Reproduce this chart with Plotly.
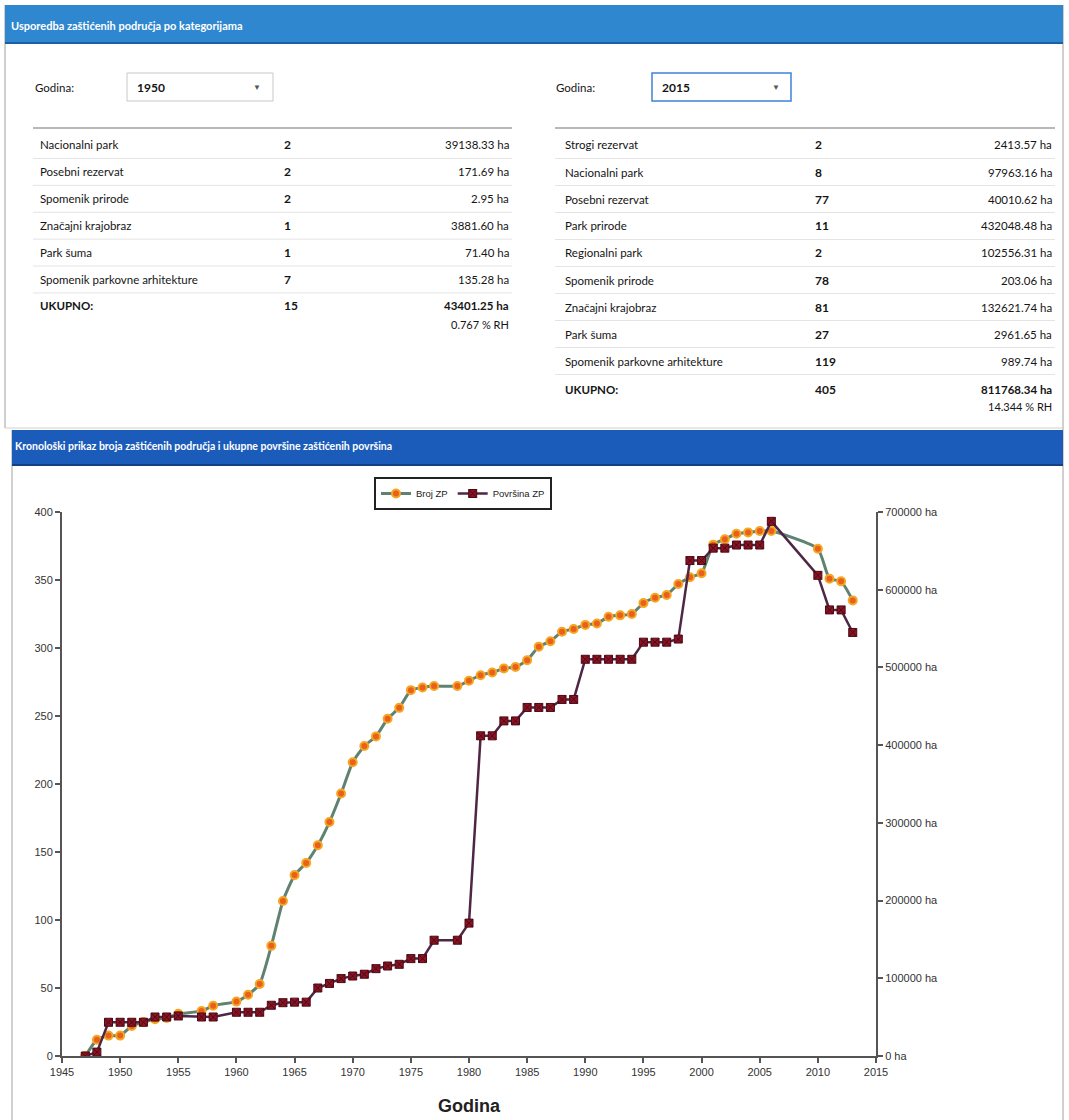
import plotly.graph_objects as go

W, H = 1069, 1120

# ---------------- data ----------------
years = [1947, 1948, 1949, 1950, 1951, 1952, 1953, 1954, 1955, 1957, 1958,
         1960, 1961, 1962, 1963, 1964, 1965, 1966, 1967, 1968, 1969, 1970,
         1971, 1972, 1973, 1974, 1975, 1976, 1977, 1979, 1980, 1981, 1982,
         1983, 1984, 1985, 1986, 1987, 1988, 1989, 1990, 1991, 1992, 1993,
         1994, 1995, 1996, 1997, 1998, 1999, 2000, 2001, 2002, 2003, 2004,
         2005, 2006, 2010, 2011, 2012, 2013]
broj_zp = [0, 12, 15, 15, 22, 25, 27, 28, 31, 33, 37,
           40, 45, 53, 81, 114, 133, 142, 155, 172, 193, 216,
           228, 235, 248, 256, 269, 271, 272, 272, 276, 280, 282,
           285, 286, 291, 301, 305, 312, 314, 317, 318, 323, 324,
           325, 333, 337, 339, 347, 352, 355, 376, 380, 384, 385,
           386, 386, 373, 351, 349, 335]
povrsina_zp = [0, 5000, 43400, 43400, 43400, 43400, 50200, 50200, 51500, 50200, 50200,
               56300, 56300, 56300, 65300, 68600, 69300, 69300, 87500, 93400, 99600, 102900,
               105200, 112400, 115800, 118000, 125300, 125300, 149000, 149000, 171000, 412000, 412000,
               431200, 431200, 448500, 448500, 448500, 458800, 458800, 510500, 510500, 510500, 510500,
               510500, 532500, 532500, 532500, 536500, 637500, 637500, 653500, 653500, 657500, 657500,
               657500, 688000, 618500, 574000, 574000, 545000]

t1950_names = ["Nacionalni park", "Posebni rezervat", "Spomenik prirode", "Značajni krajobraz",
               "Park šuma", "Spomenik parkovne arhitekture"]
t1950_counts = ["2", "2", "2", "1", "1", "7"]
t1950_areas = ["39138.33 ha", "171.69 ha", "2.95 ha", "3881.60 ha", "71.40 ha", "135.28 ha"]
t1950_total = ["UKUPNO:", "15", "43401.25 ha", "0.767 % RH"]

t2015_names = ["Strogi rezervat", "Nacionalni park", "Posebni rezervat", "Park prirode",
               "Regionalni park", "Spomenik prirode", "Značajni krajobraz", "Park šuma",
               "Spomenik parkovne arhitekture"]
t2015_counts = ["2", "8", "77", "11", "2", "78", "81", "27", "119"]
t2015_areas = ["2413.57 ha", "97963.16 ha", "40010.62 ha", "432048.48 ha", "102556.31 ha",
               "203.06 ha", "132621.74 ha", "2961.65 ha", "989.74 ha"]
t2015_total = ["UKUPNO:", "405", "811768.34 ha", "14.344 % RH"]

title_top = "Usporedba zaštićenih područja po kategorijama"
title_chart = "Kronološki prikaz broja zaštićenih područja i ukupne površine zaštićenih površina"

# ---------------- helpers ----------------
def px(x):
    return x / W

def py(y):
    return 1 - y / H

TXT = "Lato, 'Noto Sans', sans-serif"
AX = "'Liberation Sans', Arial, sans-serif"

shapes = []
annotations = []

def rect(x0, y0, x1, y1, fill, line=None, lw=0):
    shapes.append(dict(type="rect", xref="paper", yref="paper",
                       x0=px(x0), x1=px(x1), y0=py(y1), y1=py(y0),
                       fillcolor=fill, line=dict(color=line or fill, width=lw), layer="below"))

def hline(x0, x1, y, color, width=1):
    shapes.append(dict(type="line", xref="paper", yref="paper",
                       x0=px(x0), x1=px(x1), y0=py(y), y1=py(y),
                       line=dict(color=color, width=width), layer="below"))

def vline(x, y0, y1, color, width=1):
    shapes.append(dict(type="line", xref="paper", yref="paper",
                       x0=px(x), x1=px(x), y0=py(y0), y1=py(y1),
                       line=dict(color=color, width=width), layer="below"))

def text(x, y, s, size=12, color="#151515", align="left", bold=False, family=TXT):
    if bold:
        s = "<b>" + s + "</b>"
    annotations.append(dict(xref="paper", yref="paper", x=px(x), y=py(y), text=s,
                            showarrow=False, xanchor=align, yanchor="middle",
                            borderpad=0, font=dict(family=family, size=size, color=color)))

# ---------------- page frame ----------------
vline(5, 5, 428, "#a0a0a0", 1)
vline(1063, 5, 1120, "#a0a0a0", 1)
vline(12, 430, 1120, "#a0a0a0", 1)
hline(5, 1063, 428, "#d0d0d0", 1)

# header bars
rect(5, 5, 1063, 43, "#2f87cf")
hline(5, 1063, 43, "#1d5fa3", 2)
text(10, 25, title_top, size=11, color="white", bold=True)
rect(12, 430, 1063, 465, "#1b5cbb")
hline(12, 1063, 465, "#123f86", 2)
text(14, 446, title_chart, size=10.5, color="white", bold=True)

# selectors
text(34, 87, "Godina:", size=11.5)
rect(127, 73, 273, 101, "white", "#c8c8c8", 1)
text(136, 87, "1950", size=12, bold=True)
text(257, 87, "▼", size=8, color="#555", align="center")
text(555, 87, "Godina:", size=11.5)
rect(652, 73, 791, 101, "white", "#3f83d6", 1.5)
text(661, 87, "2015", size=12, bold=True)
text(776, 87, "▼", size=8, color="#555", align="center")

# tables
def draw_table(xl, xr, xname, xcount, names, counts, areas, total, y0, step, total_y):
    hline(xl, xr, 128, "#b8b8b8", 2)
    for i, (n, c, a) in enumerate(zip(names, counts, areas)):
        y = y0 + i * step
        text(xname, y, n, size=11.5)
        text(xcount, y, c, size=12, bold=True)
        text(xr - 2, y, a, size=11.5, align="right")
        hline(xl, xr, y + step / 2, "#e4e4e4", 1)
    text(xname, total_y, total[0], size=11.5, bold=True)
    text(xcount, total_y, total[1], size=12, bold=True)
    text(xr - 2, total_y, total[2], size=11.5, align="right", bold=True)
    text(xr - 2, total_y + 18, total[3], size=11, align="right")

draw_table(33, 512, 39, 283, t1950_names, t1950_counts, t1950_areas, t1950_total, 145, 26.9, 306)
draw_table(555, 1055, 564, 814, t2015_names, t2015_counts, t2015_areas, t2015_total, 145, 27, 389)

# ---------------- chart ----------------
fig = go.Figure()
fig.add_trace(go.Scatter(
    x=years, y=broj_zp, name="Broj ZP", mode="lines+markers",
    line=dict(color="#5f8271", width=3, shape="spline", smoothing=0.5),
    marker=dict(symbol="circle", size=8, color="#e8601c", line=dict(color="#f5a623", width=2)),
    yaxis="y"))
fig.add_trace(go.Scatter(
    x=years, y=povrsina_zp, name="Površina ZP", mode="lines+markers",
    line=dict(color="#4d2745", width=2.5),
    marker=dict(symbol="square-x", size=8, color="#8c1224", line=dict(color="#4a0a14", width=1)),
    yaxis="y2"))

fig.update_layout(
    width=W, height=H, margin=dict(l=0, r=0, t=0, b=0, autoexpand=False),
    paper_bgcolor="white", plot_bgcolor="white",
    showlegend=True,
    legend=dict(orientation="h", x=px(463), y=py(477), xanchor="center", yanchor="top",
                bordercolor="#222", borderwidth=2, bgcolor="white",
                font=dict(family=AX, size=9.5, color="#222"), itemwidth=30,
                tracegroupgap=0),
    xaxis=dict(domain=[px(62), px(876)], range=[1945, 2015], dtick=5, tick0=1945,
               automargin=False,
               showgrid=False, zeroline=False, showline=True, linecolor="#555", linewidth=2,
               ticks="outside", ticklen=5, tickcolor="#555", tickwidth=1.5,
               tickfont=dict(family=AX, size=11, color="#333"),
               title=dict(text="<b>Godina</b>", font=dict(family=AX, size=18, color="#222"), standoff=22),
               anchor="y"),
    yaxis=dict(domain=[py(1056), py(512)], range=[0, 400], dtick=50, automargin=False,
               showgrid=False, zeroline=False, showline=True, linecolor="#555", linewidth=2,
               ticks="outside", ticklen=5, tickcolor="#555", tickwidth=1.5,
               tickfont=dict(family=AX, size=11, color="#333")),
    yaxis2=dict(overlaying="y", side="right", range=[0, 700000], dtick=100000,
                tickformat="d", ticksuffix=" ha", automargin=False,
                showgrid=False, zeroline=False, showline=True,
                linecolor="#555", linewidth=2, ticks="outside", ticklen=5, tickcolor="#555",
                tickwidth=1.5, anchor="x",
                tickfont=dict(family=AX, size=11, color="#333")),
    shapes=shapes, annotations=annotations,
)

fig.write_html("out.html", config={"displayModeBar": False},
               post_script="document.body.style.margin='0';")
